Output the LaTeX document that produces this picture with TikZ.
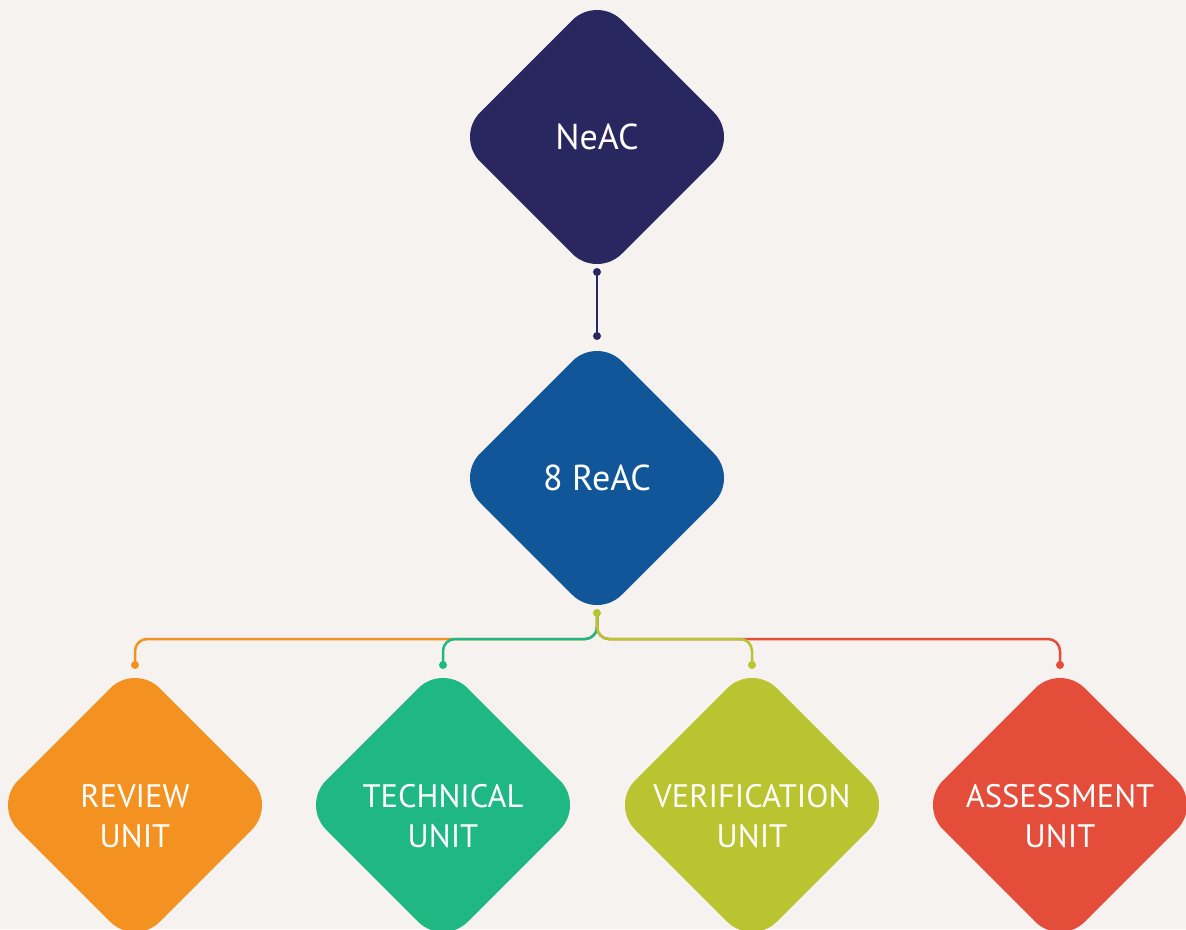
\documentclass[tikz,border=0pt]{standalone}
\usepackage{fontspec}
\setmainfont{PT Sans}
\usetikzlibrary{shapes.geometric,calc}
\definecolor{bg}{HTML}{F6F2EF}
\definecolor{navy}{HTML}{29275F}
\definecolor{blue}{HTML}{115699}
\definecolor{orng}{HTML}{F39220}
\definecolor{grn}{HTML}{1FB784}
\definecolor{lime}{HTML}{BAC430}
\definecolor{rd}{HTML}{E44D3A}
\begin{document}
\begin{tikzpicture}[x=1pt,y=-1pt,
  box/.style={diamond, aspect=1, minimum size=283pt, inner sep=0pt, outer sep=0pt,
    rounded corners=35pt, text=white, align=center, draw=none},
  big/.style={box, font=\fontsize{36}{40}\selectfont},
  unit/.style={box, font=\fontsize{32.5}{40}\selectfont, text height=85pt, text depth=0pt},
  link/.style={line width=2.5pt, rounded corners=12pt},
  dot/.style={radius=4pt}]
\useasboundingbox[fill=bg] (0,0) rectangle (1186,929);

% hierarchy boxes
\node[big, fill=navy] (neac) at (597,137) {NeAC};
\node[big, fill=blue] (reac) at (597,478) {8 ReAC};
\node[unit, fill=orng] (review) at (135,805) {REVIEW\\UNIT};
\node[unit, fill=grn]  (tech)   at (443,805) {TECHNICAL\\UNIT};
\node[unit, fill=lime] (verif)  at (752,805) {VERIFICATION\\UNIT};
\node[unit, fill=rd]   (assess) at (1060,805) {ASSESSMENT\\UNIT};

% connector end points
\coordinate (nTop) at ($(neac.center)+(0,135)$);
\coordinate (nBot) at ($(reac.center)+(0,-142)$);
\coordinate (hub)  at ($(reac.center)+(0,135)$);
\coordinate (rvIn) at ($(review.center)+(0,-140)$);
\coordinate (tcIn) at ($(tech.center)+(0,-140)$);
\coordinate (vfIn) at ($(verif.center)+(0,-140)$);
\coordinate (asIn) at ($(assess.center)+(0,-140)$);

% NeAC to 8 ReAC
\draw[link, navy] (nTop) -- (nBot);
\fill[navy] (nTop) circle[dot];
\fill[navy] (nBot) circle[dot];

% 8 ReAC to the four units
\draw[link, orng] (hub) -- (hub |- 0,639) -- (rvIn |- 0,639) -- (rvIn);
\draw[link, rd]   (hub) -- (hub |- 0,639) -- (asIn |- 0,639) -- (asIn);
\draw[link, grn]  (hub) -- (hub |- 0,639) -- (tcIn |- 0,639) -- (tcIn);
\draw[link, lime] (hub) -- (hub |- 0,639) -- (vfIn |- 0,639) -- (vfIn);
\fill[lime] (hub) circle[dot];
\fill[orng] (rvIn) circle[dot];
\fill[grn]  (tcIn) circle[dot];
\fill[lime] (vfIn) circle[dot];
\fill[rd]   (asIn) circle[dot];
\end{tikzpicture}
\end{document}
